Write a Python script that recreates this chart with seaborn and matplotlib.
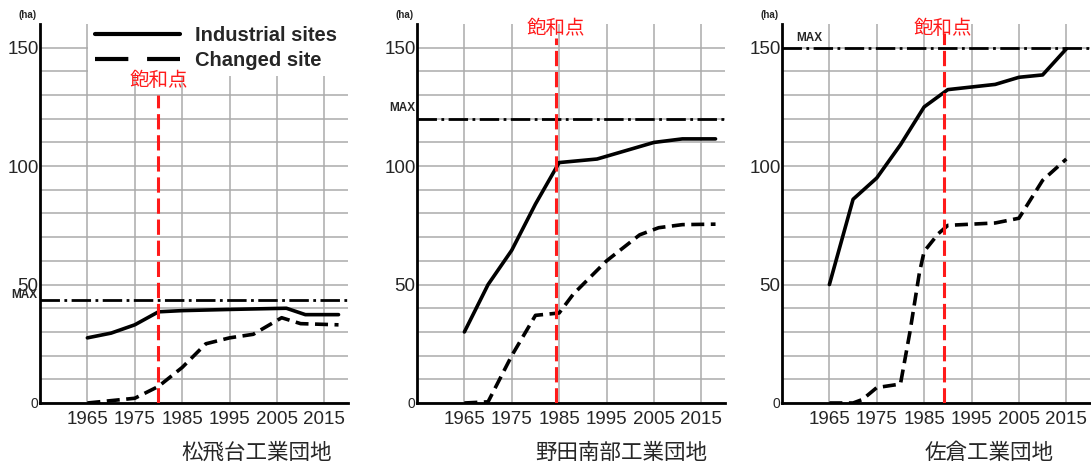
import matplotlib
matplotlib.use("Agg")
import matplotlib.pyplot as plt
from matplotlib.lines import Line2D
from matplotlib.patches import Rectangle
import seaborn as sns

# ------------------------------
# Data
# ------------------------------
titles = ["松飛台工業団地", "野田南部工業団地", "佐倉工業団地"]
year_ticks = [1965, 1975, 1985, 1995, 2005, 2015]
y_ticks = [0, 50, 100, 150]

p1_ind_years = [1965, 1970, 1975, 1980, 1985, 1995, 2007, 2011, 2018]
p1_ind = [27.5, 29.5, 33, 38.5, 39, 39.5, 40, 37.3, 37.3]
p1_chg_years = [1965, 1970, 1975, 1980, 1985, 1990, 1995, 2000, 2006, 2010, 2018]
p1_chg = [0, 1, 2, 7, 15, 25, 27.5, 29, 36, 33.5, 33]
p1_max = 43.6
p1_sat = 1980

p2_ind_years = [1965, 1970, 1975, 1980, 1985, 1993, 2005, 2011, 2018]
p2_ind = [30, 50, 64.5, 84, 101.5, 103, 110, 111.5, 111.5]
p2_chg_years = [1965, 1970, 1975, 1980, 1985, 1988, 1992, 1995, 2002, 2006, 2011, 2018]
p2_chg = [0, 0.5, 20, 37, 38, 46, 54, 60, 71, 74, 75.3, 75.5]
p2_max = 120
p2_sat = 1984.4

p3_ind_years = [1965, 1970, 1975, 1980, 1985, 1990, 2000, 2005, 2010, 2015]
p3_ind = [50, 86, 95, 109, 125, 132.3, 134.5, 137.5, 138.5, 149.5]
p3_chg_years = [1965, 1970, 1972, 1975, 1980, 1982, 1984, 1985, 1988, 1990, 2000, 2005, 2010, 2015]
p3_chg = [0, 0, 1.5, 6.5, 8, 30, 55, 64, 71.5, 75, 76, 78, 94, 103]
p3_max = 150
p3_sat = 1989.1

panels = [
    (p1_ind_years, p1_ind, p1_chg_years, p1_chg, p1_max, p1_sat),
    (p2_ind_years, p2_ind, p2_chg_years, p2_chg, p2_max, p2_sat),
    (p3_ind_years, p3_ind, p3_chg_years, p3_chg, p3_max, p3_sat),
]

# ------------------------------
# Style
# ------------------------------
sns.set_style("white")
plt.rcParams["font.family"] = ["Liberation Sans", "DejaVu Sans"]
cjk = ["Noto Sans CJK JP", "DejaVu Sans"]

W, H = 1091, 466
fig = plt.figure(figsize=(W / 100, H / 100), dpi=100)

# axes rectangles in pixels: left, right, bottom(from top), top(from top)
rects = [(40, 348), (417, 725), (782, 1090)]
ax_bottom, ax_top = 403, 24

# placement of labels per panel (data coords)
sat_label_pos = [(1980, 136), (1984.3, 158.3), (1989, 158.3)]
sat_top = [130, 154, 156]
max_label = [(1954.4, 45.8, "right"), (1954.6, 124.5, "right"), (1958.1, 154, "left")]
title_x = [257, 621, 989]

axes = []
for i, (ind_x, ind_y, chg_x, chg_y, max_v, sat_x) in enumerate(panels):
    l, r = rects[i]
    ax = fig.add_axes([l / W, (H - ax_bottom) / H, (r - l) / W, (ax_bottom - ax_top) / H])
    axes.append(ax)
    ax.set_xlim(1955, 2020)
    ax.set_ylim(0, 160)

    # grid
    ax.set_xticks(year_ticks)
    ax.set_yticks(y_ticks)
    ax.set_yticks(range(0, 160, 10), minor=True)
    ax.grid(True, which="major", axis="x", color="#ababab", lw=1.1)
    ax.grid(True, which="both", axis="y", color="#ababab", lw=1.1)
    ax.set_axisbelow(True)
    ax.tick_params(which="both", length=0)
    ax.tick_params(axis="x", labelsize=13.5, pad=6)
    ax.tick_params(axis="y", labelsize=13.5, pad=1)
    for lab in ax.get_yticklabels():
        if lab.get_text() == "0":
            lab.set_fontsize(10)

    for s in ["top", "right"]:
        ax.spines[s].set_visible(False)
    for s in ["left", "bottom"]:
        ax.spines[s].set_linewidth(2.0)
        ax.spines[s].set_color("black")

    # MAX line
    ax.axhline(max_v, color="black", lw=2.0, linestyle=(0, (7, 1.6, 1, 1.6)), zorder=2)
    mx, my, mha = max_label[i]
    ax.text(mx, my, "MAX", fontsize=8.5, fontweight="bold", ha=mha, va="center", clip_on=False)

    # series
    sns.lineplot(x=ind_x, y=ind_y, ax=ax, color="black", lw=2.6,
                 solid_capstyle="round", zorder=3)
    sns.lineplot(x=chg_x, y=chg_y, ax=ax, color="black", lw=2.6,
                 linestyle=(0, (3.6, 1.8)), zorder=3)

    # saturation point
    ax.plot([sat_x, sat_x], [0, sat_top[i]], color="#ff1a1a", lw=2.2,
            linestyle=(0, (5, 1.9)), zorder=4)
    sx, sy = sat_label_pos[i]
    ax.text(sx, sy, "飽和点", color="#ff1a1a", fontsize=14, family=cjk,
            ha="center", va="center", clip_on=False)

    # unit label
    ax.text(-0.04, 1.024, "(ha)", transform=ax.transAxes, fontsize=7,
            fontweight="bold", ha="center", va="center")

    ax.set_xlabel("")
    ax.set_ylabel("")

    fig.text(title_x[i] / W, 1 - 453 / H, titles[i], fontsize=15.5, family=cjk,
             ha="center", va="center")

# white area behind the legend in the first panel
ax0 = axes[0]
ax0.add_patch(Rectangle(((88 - 40) / 308, (403 - 76) / 379), 1.05, 0.2,
                        transform=ax0.transAxes, facecolor="white", edgecolor="none",
                        zorder=1, clip_on=False))

handles = [
    Line2D([], [], color="black", lw=3.0, solid_capstyle="round"),
    Line2D([], [], color="black", lw=3.0, linestyle=(0, (8, 4.5))),
]
leg = ax0.legend(handles, ["Industrial sites", "Changed site"],
                 loc="upper left", bbox_to_anchor=((88 - 40) / 308, (403 - 19) / 379),
                 bbox_transform=ax0.transAxes, borderaxespad=0,
                 prop={"size": 14.5, "weight": "bold"}, handlelength=4.2,
                 handletextpad=0.75, labelspacing=0.32, borderpad=0.35,
                 frameon=False)
leg.set_zorder(5)

fig.savefig("out.png", dpi=100)
